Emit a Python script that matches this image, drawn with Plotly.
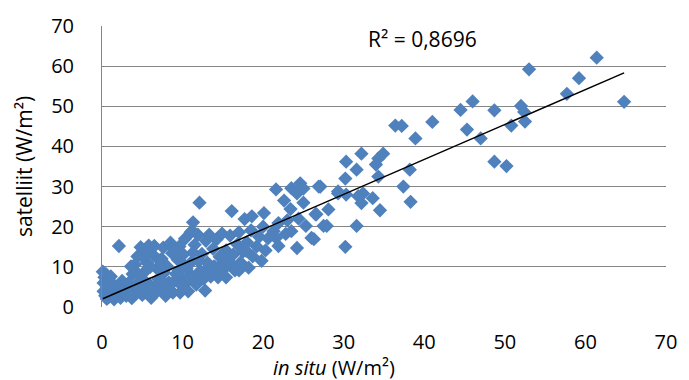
import numpy as np
import plotly.graph_objects as go

# (in situ, satelliit) pairs in W/m²
pts_0_4 = [(0.1, 8.8), (0.3, 7.4), (0.2, 6.0), (0.6, 4.9), (0.2, 3.9), (0.9, 2.6), (1.2, 4.3),
           (1.5, 1.9), (1.9, 3.2), (0.8, 6.6), (1.4, 5.6), (2.3, 2.3), (2.6, 4.5), (3.0, 3.1),
           (3.3, 6.0), (3.7, 2.2), (2.1, 15.2), (2.5, 6.5), (0.5, 8.2), (1.1, 7.6), (2.0, 5.0),
           (3.4, 4.2), (0.4, 2.8)]
pts_4_9 = [(3.8, 8.2), (4.1, 10.6), (4.4, 12.6), (4.0, 3.9), (4.6, 6.3), (5.0, 3.0), (5.2, 8.6),
           (5.4, 14.1), (5.6, 11.0), (5.9, 5.6), (6.1, 2.3), (6.3, 13.1), (6.5, 15.2), (6.8, 9.6),
           (7.0, 7.0), (7.2, 4.5), (7.4, 12.0), (7.6, 14.8), (7.9, 2.8), (8.1, 10.1), (8.3, 6.1),
           (8.5, 16.0), (8.7, 13.4), (4.8, 14.9), (5.8, 15.3), (3.6, 10.1), (6.0, 10.0), (6.6, 5.0),
           (5.3, 6.5), (4.3, 8.6), (7.7, 8.6), (8.8, 3.6), (6.2, 3.8), (5.1, 12.3), (7.1, 11.6)]
pts_9_14 = [(9.2, 8.2), (9.4, 11.8), (9.6, 15.1), (9.9, 5.3), (10.1, 13.1), (10.3, 17.0), (10.5, 9.5),
            (10.7, 3.9), (10.9, 7.1), (11.1, 11.2), (11.3, 21.1), (11.5, 15.5), (11.7, 5.6),
            (11.9, 18.0), (12.1, 26.0), (12.2, 9.0), (12.4, 13.2), (12.6, 7.0), (12.8, 4.1),
            (12.9, 16.5), (11.0, 18.6), (13.1, 11.0), (13.3, 18.0), (13.5, 8.5), (9.0, 14.2),
            (10.0, 10.9), (9.7, 3.6), (11.3, 13.6), (12.0, 11.4), (13.8, 14.5), (11.2, 19.0)]
pts_core = [(0.6, 2.0), (1.3, 3.0), (2.2, 3.8), (3.0, 2.8), (4.0, 3.5), (4.5, 5.0), (5.0, 4.2),
            (6.0, 4.8), (6.5, 3.2), (7.0, 5.5), (8.0, 5.0), (8.5, 4.2), (9.0, 6.5), (9.5, 9.0),
            (10.0, 7.0), (10.2, 5.6), (11.0, 8.0), (11.8, 6.6), (12.0, 8.5), (13.0, 9.5),
            (13.5, 7.6), (14.0, 10.0), (15.0, 11.0), (3.5, 3.0), (5.5, 3.6), (7.5, 6.5),
            (14.5, 8.6), (16.0, 10.5)]
pts_14_21 = [(13.9, 10.1), (14.2, 16.8), (14.4, 7.4), (14.6, 12.5), (14.9, 18.3), (15.2, 9.6),
             (15.4, 14.1), (15.7, 11.6), (15.9, 17.8), (16.1, 23.9), (16.3, 13.1), (16.5, 9.1),
             (16.8, 15.6), (17.0, 18.6), (17.2, 11.1), (17.5, 13.8), (17.7, 21.9), (18.0, 16.1),
             (18.2, 9.8), (18.5, 19.1), (18.7, 12.6), (18.6, 22.6), (19.2, 15.1), (19.5, 17.5),
             (19.8, 11.5), (20.0, 20.0), (20.3, 14.1), (20.6, 17.1), (20.1, 23.4), (17.9, 14.0),
             (17.0, 9.1), (15.4, 7.4)]
pts_20s = [(21.6, 29.3), (23.5, 29.6), (24.6, 30.8), (24.2, 28.3), (27.1, 30.0), (23.4, 24.4),
           (26.5, 23.1), (21.9, 20.9), (22.8, 18.2), (21.9, 15.2), (24.2, 14.7), (26.3, 16.9),
           (23.5, 18.9), (25.3, 20.2), (21.3, 18.9), (27.5, 20.2), (21.6, 17.2), (25.0, 29.5),
           (26.9, 30.0), (28.1, 24.3), (26.6, 23.1), (27.9, 20.2), (22.6, 26.5), (25.0, 26.0),
           (24.4, 22.0), (23.0, 21.6), (26.0, 17.2)]
pts_30s = [(30.2, 15.0), (31.6, 20.2), (34.5, 24.1), (29.3, 28.3), (30.3, 28.0), (32.2, 25.9),
           (33.6, 27.1), (32.4, 28.3), (30.3, 36.2), (31.6, 34.2), (32.2, 38.2), (34.3, 37.0),
           (34.9, 38.2), (34.0, 35.5), (30.2, 32.0), (34.3, 32.5), (38.2, 34.2), (37.4, 30.0),
           (38.3, 26.2), (29.3, 28.8), (31.8, 27.6)]
pts_high = [(61.4, 62.1), (53.0, 59.2), (59.2, 57.0), (57.7, 53.1), (64.8, 51.1), (46.0, 51.2),
            (44.5, 49.1), (48.7, 49.0), (52.0, 50.1), (52.4, 48.6), (52.5, 46.2), (50.8, 45.2),
            (45.3, 44.2), (47.0, 42.0), (41.0, 46.1), (38.9, 42.0), (36.4, 45.2), (37.2, 45.1),
            (48.7, 36.2), (50.2, 35.1)]

r2_label = "R² = 0,8696"
x_title = "<i>in situ</i> (W/m²)"
y_title = "satelliit (W/m²)"
tick_vals = [0, 10, 20, 30, 40, 50, 60, 70]

all_pts = pts_0_4 + pts_4_9 + pts_core + pts_9_14 + pts_14_21 + pts_20s + pts_30s + pts_high
insitu = np.array([p[0] for p in all_pts])
satelliit = np.array([p[1] for p in all_pts])

slope, intercept = np.polyfit(insitu, satelliit, 1)
trend_x = np.array([insitu.min(), insitu.max()])
trend_y = slope * trend_x + intercept

FONT = "Open Sans"
grid = "#868686"

fig = go.Figure()
fig.add_trace(go.Scatter(
    x=insitu, y=satelliit, mode="markers", cliponaxis=False,
    marker=dict(symbol="diamond", size=11, color="#4F81BD", line=dict(width=0)),
    showlegend=False, hoverinfo="skip"))
fig.add_trace(go.Scatter(
    x=trend_x, y=trend_y, mode="lines", cliponaxis=False,
    line=dict(color="black", width=1.5), showlegend=False, hoverinfo="skip"))

fig.update_layout(
    width=689, height=380,
    margin=dict(l=102, r=19, t=23, b=73),
    paper_bgcolor="white", plot_bgcolor="white",
    font=dict(family=FONT, size=21, color="black"),
    xaxis=dict(range=[0, 70], tickvals=tick_vals, showgrid=False, zeroline=False,
               showline=False, ticks="", ticklabelstandoff=21,
               tickfont=dict(size=20)),
    yaxis=dict(range=[0, 70], tickvals=tick_vals, showgrid=True, gridcolor=grid, gridwidth=1,
               zeroline=False, showline=True, linecolor=grid, linewidth=1, ticks="",
               ticklabelstandoff=23, tickfont=dict(size=20)),
    annotations=[
        dict(text=r2_label, xref="paper", yref="paper", x=0.569, y=0.955,
             xanchor="center", yanchor="middle", showarrow=False, font=dict(size=21)),
        dict(text=x_title, xref="paper", yref="paper", x=0.412, y=-0.215,
             xanchor="center", yanchor="middle", showarrow=False, font=dict(size=20)),
        dict(text=y_title, xref="paper", yref="paper", x=-0.139, y=0.5, textangle=-90,
             xanchor="center", yanchor="middle", showarrow=False, font=dict(size=21)),
    ],
)

fig.write_html("out.html", config={"displayModeBar": False},
               post_script="document.body.style.margin='0';document.body.style.padding='0';")
